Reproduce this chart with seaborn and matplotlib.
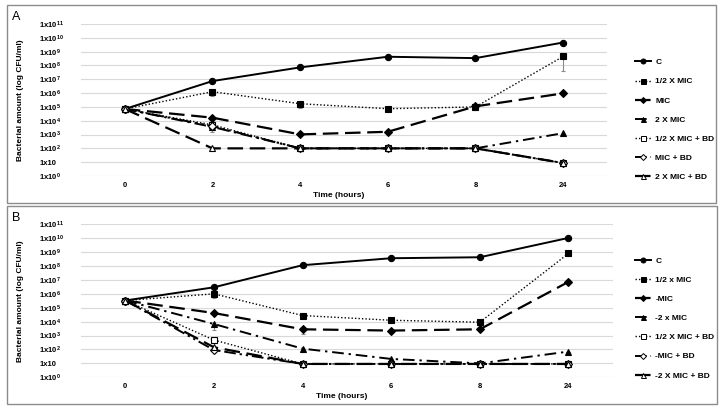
import numpy as np
import matplotlib
matplotlib.use("Agg")
import matplotlib.pyplot as plt
import seaborn as sns
from matplotlib.lines import Line2D
from matplotlib.patches import Rectangle

# time points (categorical, evenly spaced)
times = ["0", "2", "4", "6", "8", "24"]

# log10 CFU/ml - panel A
c_a = [4.85, 6.87, 7.86, 8.63, 8.53, 9.66]
half_a = [4.85, 6.10, 5.23, 4.87, 5.00, 8.65]
mic_a = [4.85, 4.22, 3.01, 3.20, 5.04, 5.98]
two_a = [4.85, 3.55, 2.00, 2.00, 2.00, 3.10]
half_bd_a = [4.85, 3.70, 2.00, 2.00, 2.00, 0.94]
mic_bd_a = [4.85, 3.60, 2.00, 2.00, 2.00, 0.94]
two_bd_a = [4.85, 2.00, 2.00, 2.00, 2.00, 0.94]

# panel B
c_b = [5.52, 6.47, 8.06, 8.56, 8.63, 10.02]
half_b = [5.52, 6.00, 4.44, 4.10, 3.96, 8.90]
mic_b = [5.52, 4.62, 3.45, 3.36, 3.45, 6.86]
two_b = [5.52, 3.83, 2.06, 1.32, 1.00, 1.85]
half_bd_b = [5.52, 2.68, 0.96, 0.96, 0.96, 0.96]
mic_bd_b = [5.52, 1.96, 0.96, 0.96, 0.96, 0.96]
two_bd_b = [5.52, 2.16, 0.96, 0.96, 0.96, 0.96]

# lower error bars (log units), mostly zero
err_half_a = [0, 0.3, 0.3, 0, 0.2, 1.05]
err_half_bd_a = [0, 0.55, 0, 0, 0, 0]
err_two_b = [0, 0.45, 0, 0, 0, 0]
err_mic_b = [0, 0, 0.35, 0, 0, 0]
err_half_b = [0, 0.3, 0, 0, 0, 0]

labels_a = ["C", "1/2 X MIC", "MIC", "2 X MIC", "1/2 X MIC + BD", "MIC + BD", "2 X MIC + BD"]
labels_b = ["C", "1/2 x MIC", "-MIC", "-2 x MIC", "1/2 X MIC + BD", "-MIC + BD", "-2 X MIC + BD"]

ytick_labels = ["1x10$^{0}$", "1x10"] + [f"1x10$^{{{k}}}$" for k in range(2, 12)]

# line/marker styles per series (same order as labels)
styles = [
    dict(marker="o", linestyle="-", lw=1.4, mfc="black", ms=4.5),
    dict(marker="s", linestyle=(0, (1, 1.5)), lw=1.0, mfc="black", ms=4.5),
    dict(marker="D", linestyle=(0, (7, 3)), lw=1.6, mfc="black", ms=3.8),
    dict(marker="^", linestyle=(0, (6, 2.5, 1.2, 2.5)), lw=1.4, mfc="black", ms=4.5),
    dict(marker="s", linestyle=(0, (1, 1.5)), lw=1.0, mfc="white", ms=4.5),
    dict(marker="D", linestyle=(0, (6, 2, 1.2, 2, 1.2, 2)), lw=1.4, mfc="white", ms=3.8),
    dict(marker="^", linestyle=(0, (7, 3)), lw=1.6, mfc="white", ms=4.5),
]

plt.rcParams["font.family"] = ["Liberation Sans", "DejaVu Sans"]
plt.rcParams["mathtext.default"] = "regular"

fig = plt.figure(figsize=(7.25, 4.11), dpi=100)

# panel frames
fig.patches.append(Rectangle((7 / 725, 1 - 203 / 411), 709 / 725, 198 / 411,
                             transform=fig.transFigure, fill=False, ec="#8c8c8c", lw=1.0))
fig.patches.append(Rectangle((7 / 725, 1 - 404 / 411), 710 / 725, 198 / 411,
                             transform=fig.transFigure, fill=False, ec="#8c8c8c", lw=1.0))

ax_a = fig.add_axes([0.1117, 0.5718, 0.7255, 0.3698])
ax_b = fig.add_axes([0.1117, 0.0820, 0.7335, 0.3723])

panels = [
    (ax_a, [c_a, half_a, mic_a, two_a, half_bd_a, mic_bd_a, two_bd_a], labels_a,
     {1: err_half_a, 4: err_half_bd_a}, "A", 0.951, 0.876),
    (ax_b, [c_b, half_b, mic_b, two_b, half_bd_b, mic_bd_b, two_bd_b], labels_b,
     {1: err_half_b, 2: err_mic_b, 3: err_two_b}, "B", 0.462, 0.3935),
]

pos = np.arange(len(times))
for ax, series, labels, errs, letter, letter_y, leg_y in panels:
    for j, lo in errs.items():
        ax.errorbar(pos, series[j], yerr=[lo, np.zeros(len(lo))], fmt="none",
                    ecolor="#8a8a8a", elinewidth=0.8, capsize=1.5, capthick=0.8, zorder=2)
    handles = []
    for vals, st, lab in zip(series, styles, labels):
        sns.lineplot(x=pos, y=vals, ax=ax, color="black", marker=st["marker"],
                     linestyle=st["linestyle"], linewidth=st["lw"], markersize=st["ms"],
                     markerfacecolor=st["mfc"], markeredgecolor="black",
                     markeredgewidth=0.8, zorder=3)
        handles.append(Line2D([], [], color="black", marker=st["marker"], linestyle=st["linestyle"],
                              linewidth=st["lw"], markersize=st["ms"] * 0.8,
                              markerfacecolor=st["mfc"], markeredgecolor="black",
                              markeredgewidth=0.7, label=lab))
    ax.set_xlim(-0.5, len(times) - 0.5)
    ax.set_ylim(0, 11)
    ax.set_xticks(pos)
    ax.set_xticklabels(times, fontsize=5.5, fontweight="bold")
    ax.set_yticks(np.arange(12))
    ax.set_yticklabels(ytick_labels, fontsize=5.5, fontweight="bold", ha="left")
    ax.tick_params(axis="y", length=0, pad=30)
    ax.tick_params(axis="x", length=0, pad=4)
    ax.yaxis.grid(True, color="#d9d9d9", lw=0.8)
    ax.set_axisbelow(True)
    for sp in ax.spines.values():
        sp.set_visible(False)
    ax.set_xlabel("Time (hours)", fontsize=6, fontweight="bold")
    ax.xaxis.set_label_coords(0.49, -0.105)
    ax.set_ylabel("Bacterial amount (log CFU/ml)", fontsize=6, fontweight="bold")
    ax.yaxis.set_label_coords(-0.108, 0.5)
    fig.text(12 / 725, letter_y, letter, fontsize=9, va="baseline")
    fig.legend(handles=handles, loc="upper left", bbox_to_anchor=(0.865, leg_y),
               frameon=False, prop={"weight": "bold", "size": 6},
               handlelength=2.0, handletextpad=0.5, labelspacing=1.36, numpoints=1)

fig.savefig("out.png", dpi=100)
